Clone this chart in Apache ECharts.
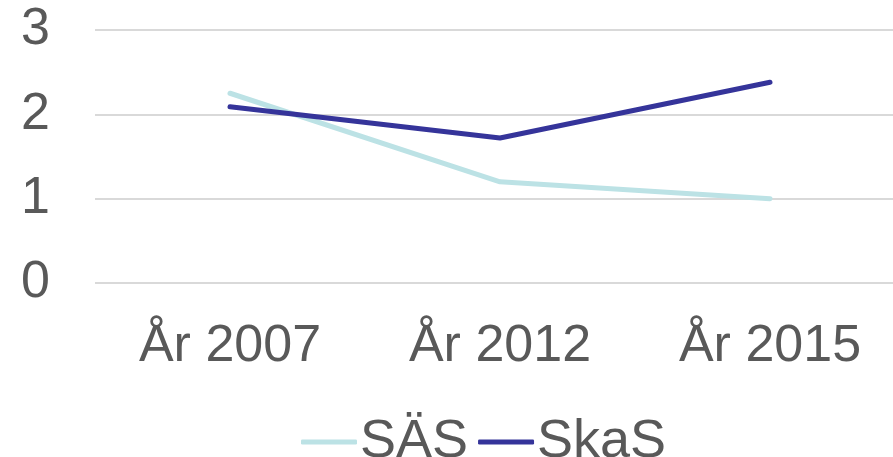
<!DOCTYPE html>
<html>
<head>
	<meta charset="UTF-8">
	<title>SÄS / SkaS</title>
	<script src="https://cdn.jsdelivr.net/npm/echarts@6/dist/echarts.min.js"></script>
	<style>
		html, body { margin: 0; padding: 0; background: #fff; }
		#chart { width: 893px; height: 457px; }
	</style>
</head>
<body>
	<div id="chart"></div>
	<script type="text/javascript">
		// kategorier och värden
		var years = ['År 2007', 'År 2012', 'År 2015'];
		var sasValues = [2.25, 1.2, 1.0];
		var skasValues = [2.09, 1.72, 2.38];
		var seriesNames = ['SÄS', 'SkaS'];

		var myChart = echarts.init(document.getElementById('chart'));

		var font = 'Liberation Sans, Arial, sans-serif';
		var textColor = '#595959';

		var option = {
			animation: false,
			grid: {
				left: 95,
				width: 810,
				top: 30,
				height: 253,
				outerBoundsMode: 'none'
			},
			legend: {
				data: seriesNames,
				top: 410,
				left: 296,
				itemWidth: 56,
				itemHeight: 5,
				itemGap: 10,
				icon: 'roundRect',
				textStyle: {
					fontFamily: font,
					fontSize: 54,
					color: textColor,
					padding: [0, 0, 0, -2]
				}
			},
			xAxis: {
				type: 'category',
				data: years,
				boundaryGap: true,
				axisLine: { show: false },
				axisTick: { show: false },
				axisLabel: {
					margin: 38,
					fontFamily: font,
					fontSize: 52,
					color: textColor
				}
			},
			yAxis: {
				type: 'value',
				min: 0,
				max: 3,
				interval: 1,
				axisLine: { show: false },
				axisTick: { show: false },
				splitLine: { lineStyle: { color: '#d9d9d9', width: 2 } },
				axisLabel: {
					margin: 45,
					fontFamily: font,
					fontSize: 52,
					color: textColor
				}
			},
			series: [{
				name: seriesNames[0],
				type: 'line',
				data: sasValues,
				symbol: 'none',
				color: '#bce2e5',
				lineStyle: { width: 5, cap: 'round', color: '#bce2e5' }
			}, {
				name: seriesNames[1],
				type: 'line',
				data: skasValues,
				symbol: 'none',
				color: '#35349a',
				lineStyle: { width: 5, cap: 'round', color: '#35349a' }
			}]
		};

		myChart.setOption(option);
	</script>
</body>
</html>
